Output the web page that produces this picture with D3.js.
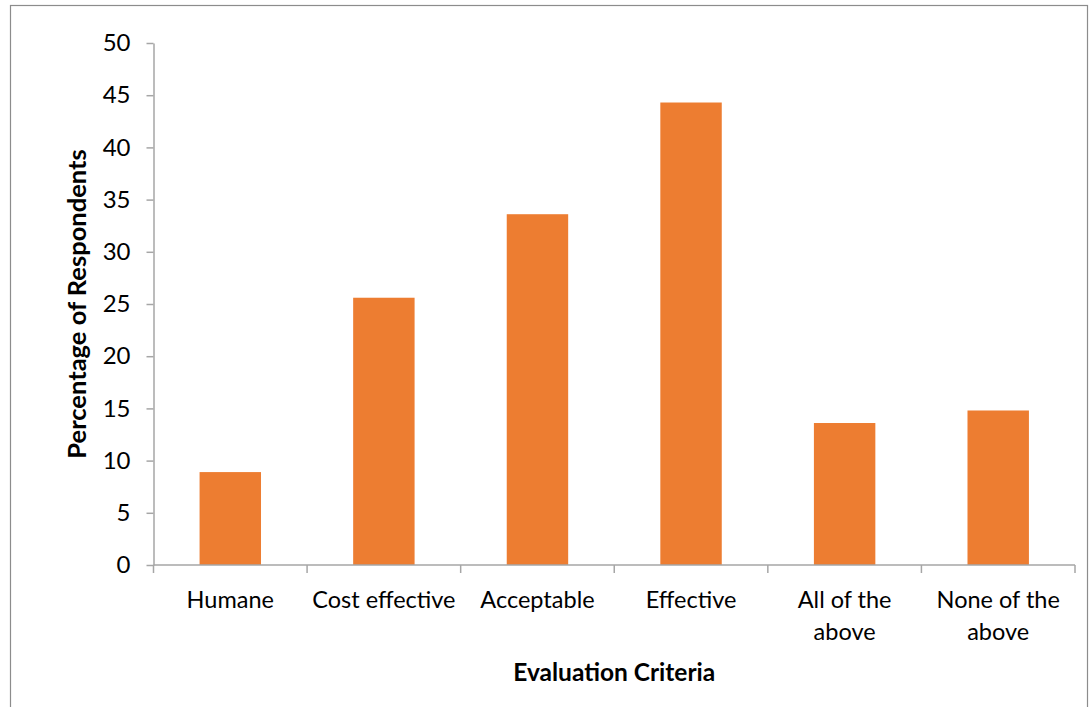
<!DOCTYPE html>
<html>
<head>
<meta charset="utf-8">
<script src="https://cdn.jsdelivr.net/npm/d3@7"></script>
<style>
  html, body { margin: 0; padding: 0; background: #fff; }
  svg { display: block; font-family: Lato, "Open Sans", sans-serif; }
</style>
</head>
<body>
<svg id="chart" width="1089" height="707"></svg>
<script>
// Survey responses by evaluation criterion
const categories = ["Humane", "Cost effective", "Acceptable", "Effective", "All of the above", "None of the above"];
const labelLines = [["Humane"], ["Cost effective"], ["Acceptable"], ["Effective"], ["All of the", "above"], ["None of the", "above"]];
const values = [8.9, 25.6, 33.6, 44.3, 13.6, 14.8];
const yTicks = [0, 5, 10, 15, 20, 25, 30, 35, 40, 45, 50];

const svg = d3.select("#chart");
const margin = { left: 153.5, right: 14, top: 43, bottom: 142 };
const W = 1089, H = 707;
const x0 = margin.left, x1 = W - margin.right;
const y0 = H - margin.bottom, y1 = margin.top;

// Outer chart frame
svg.append("rect")
  .attr("x", 10.5).attr("y", 5.5)
  .attr("width", 1077).attr("height", 720)
  .attr("fill", "none").attr("stroke", "#8c8c8c").attr("stroke-width", 1.2);

const x = d3.scaleBand().domain(categories).range([x0, x1])
  .paddingInner(0.6).paddingOuter(0.3);
const y = d3.scaleLinear().domain([0, 50]).range([y0, y1]);

// Bars
svg.append("g").selectAll("rect")
  .data(categories)
  .join("rect")
  .attr("x", d => x(d))
  .attr("width", x.bandwidth())
  .attr("y", (d, i) => y(values[i]))
  .attr("height", (d, i) => y(0) - y(values[i]))
  .attr("fill", "#ED7D31");

// Y axis
const yAxis = svg.append("g")
  .attr("transform", `translate(${x0},0)`)
  .call(d3.axisLeft(y).tickValues(yTicks).tickSize(7).tickPadding(16).tickSizeOuter(0));
yAxis.select(".domain").attr("stroke", "#a6a6a6").attr("stroke-width", 1.5);
yAxis.selectAll(".tick line").attr("stroke", "#a6a6a6").attr("stroke-width", 1.5);
yAxis.selectAll(".tick text")
  .attr("font-size", 24).attr("fill", "#000").attr("font-family", "Lato, sans-serif");

// X axis with boundary ticks between categories
const step = x.step();
const boundaries = d3.range(categories.length + 1).map(i => x0 + i * step);
const xAxisG = svg.append("g");
xAxisG.append("line")
  .attr("x1", x0).attr("x2", x1).attr("y1", y0).attr("y2", y0)
  .attr("stroke", "#a6a6a6").attr("stroke-width", 1.5);
xAxisG.selectAll("line.b")
  .data(boundaries)
  .join("line")
  .attr("class", "b")
  .attr("x1", d => d).attr("x2", d => d)
  .attr("y1", y0).attr("y2", y0 + 8)
  .attr("stroke", "#a6a6a6").attr("stroke-width", 1.5);

// Category labels (wrapped)
const lbl = svg.append("g").selectAll("text")
  .data(categories)
  .join("text")
  .attr("text-anchor", "middle")
  .attr("font-size", 23.5)
  .attr("fill", "#000")
  .attr("transform", d => `translate(${x(d) + x.bandwidth() / 2},608)`);
lbl.each(function(d, i) {
  d3.select(this).selectAll("tspan")
    .data(labelLines[i])
    .join("tspan")
    .attr("x", 0)
    .attr("dy", (t, j) => j === 0 ? 0 : 32)
    .text(t => t);
});

// Axis titles
svg.append("text")
  .attr("x", (x0 + x1) / 2).attr("y", 681)
  .attr("text-anchor", "middle")
  .attr("font-size", 24.5).attr("font-weight", "bold").attr("fill", "#000")
  .text("Evaluation Criteria");

svg.append("text")
  .attr("transform", `translate(86,${(y0 + y1) / 2}) rotate(-90)`)
  .attr("text-anchor", "middle")
  .attr("font-size", 25.5).attr("font-weight", "bold").attr("fill", "#000")
  .text("Percentage of Respondents");
</script>
</body>
</html>
